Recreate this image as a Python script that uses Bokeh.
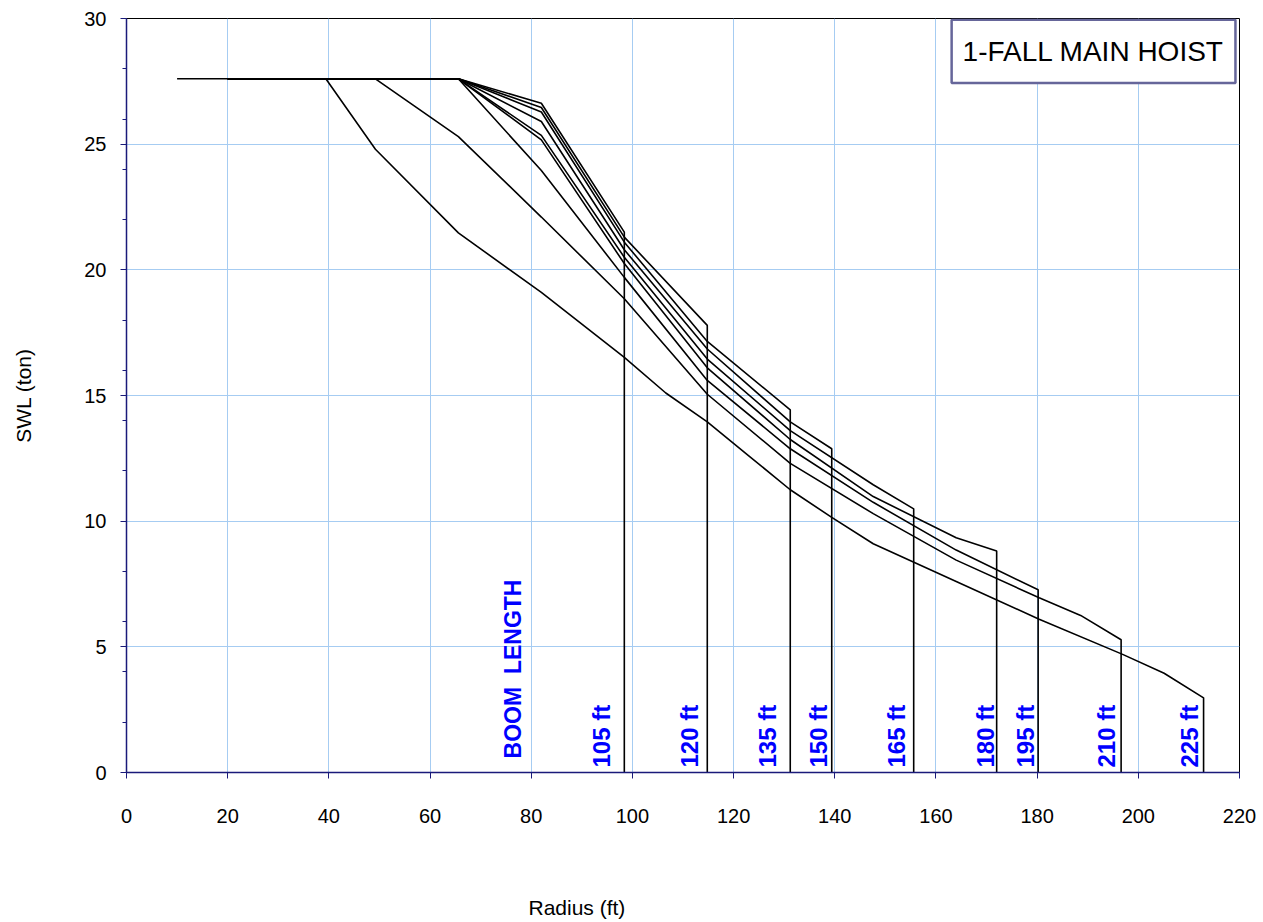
import math
from bokeh.plotting import figure
from bokeh.models import FixedTicker, Label, BoxAnnotation, Range1d, ColumnDataSource, Title
from bokeh.core.properties import value
from bokeh.embed import file_html
from bokeh.resources import INLINE

# ---- data (radius in ft, SWL in ton) ----
r105 = [10, 65.6, 82.0, 98.4, 98.4]
s105 = [27.6, 27.6, 26.63, 21.5, 0]

r120 = [20, 65.6, 82.0, 98.4, 114.8, 114.8]
s120 = [27.6, 27.6, 26.46, 21.3, 17.79, 0]

r135 = [20, 65.6, 82.0, 98.4, 114.8, 131.2, 131.2]
s135 = [27.6, 27.6, 26.28, 21.1, 17.15, 14.43, 0]

r150 = [20, 65.6, 82.0, 98.4, 114.8, 131.2, 139.4, 139.4]
s150 = [27.6, 27.6, 25.9, 20.8, 16.85, 13.95, 12.88, 0]

r165 = [20, 65.6, 82.0, 98.4, 114.8, 131.2, 147.6, 155.6, 155.6]
s165 = [27.6, 27.6, 25.35, 20.5, 16.45, 13.6, 11.45, 10.49, 0]

r180 = [20, 65.6, 82.0, 98.4, 114.8, 131.2, 147.6, 164.0, 172.0, 172.0]
s180 = [27.6, 27.6, 25.17, 20.25, 16.1, 13.25, 10.98, 9.34, 8.81, 0]

r195 = [20, 65.6, 82.0, 98.4, 114.8, 131.2, 147.6, 164.0, 180.2, 180.2]
s195 = [27.6, 27.6, 23.95, 19.7, 15.6, 12.88, 10.75, 8.85, 7.27, 0]

r210 = [20, 49.2, 65.6, 82.0, 98.4, 114.8, 131.2, 147.6, 164.0, 180.4, 188.6, 196.6, 196.6]
s210 = [27.6, 27.6, 25.3, 22.1, 18.85, 15.05, 12.3, 10.3, 8.45, 6.95, 6.25, 5.28, 0]

r225 = [20, 39.4, 49.2, 65.6, 82.0, 98.4, 106.6, 114.8, 123.0, 131.2, 139.4, 147.6,
        164.0, 180.4, 196.9, 205.1, 212.9, 212.9]
s225 = [27.6, 27.6, 24.8, 21.47, 19.1, 16.52, 15.1, 13.95, 12.6, 11.25, 10.15, 9.1,
        7.6, 6.1, 4.7, 3.95, 2.97, 0]

boom_labels = ["105 ft", "120 ft", "135 ft", "150 ft", "165 ft", "180 ft", "195 ft", "210 ft", "225 ft"]
boom_label_x = [93.8, 111.3, 126.8, 136.7, 152.2, 169.8, 177.7, 193.8, 210.2]

x_ticks = [0, 20, 40, 60, 80, 100, 120, 140, 160, 180, 200, 220]
y_ticks = [0, 5, 10, 15, 20, 25, 30]
y_minor = [2, 4, 6, 8, 12, 14, 16, 18, 22, 24, 26, 28]

FONT = "Liberation Sans"
AXIS_COLOR = "#1a1a7a"

p = figure(width=1263, height=922, x_range=Range1d(0, 220), y_range=Range1d(0, 30),
           output_backend="svg", toolbar_location=None,
           min_border_left=126, min_border_right=24, min_border_top=18, min_border_bottom=150)
p.background_fill_color = "white"
p.border_fill_color = "white"
p.outline_line_color = "black"
p.outline_line_width = 1

p.xaxis.ticker = FixedTicker(ticks=x_ticks, minor_ticks=[])
p.yaxis.ticker = FixedTicker(ticks=y_ticks, minor_ticks=y_minor)
for ax in (p.xaxis, p.yaxis):
    ax.axis_line_color = AXIS_COLOR
    ax.axis_line_width = 1.5
    ax.major_tick_line_color = AXIS_COLOR
    ax.minor_tick_line_color = AXIS_COLOR
    ax.major_tick_in = 0
    ax.major_tick_out = 6
    ax.minor_tick_in = 0
    ax.minor_tick_out = 4
    ax.major_label_text_font = FONT
    ax.major_label_text_font_size = "20px"
    ax.major_label_text_color = "black"
    ax.axis_label_text_font = FONT
    ax.axis_label_text_font_size = "21px"
    ax.axis_label_text_font_style = "normal"
    ax.axis_label_text_color = "black"
p.xaxis.major_label_standoff = 30
p.yaxis.major_label_standoff = 14
p.yaxis.axis_label = "SWL (ton)"
p.yaxis.axis_label_standoff = 46
# blank spacer label so the axis title below sits low, as in the original
p.xaxis.axis_label = "\u00a0"
p.xaxis.axis_label_standoff = 42

p.xgrid.grid_line_color = "#a6ccf2"
p.ygrid.grid_line_color = "#a6ccf2"
p.xgrid.grid_line_width = 1
p.ygrid.grid_line_width = 1

for rr, ss in [(r105, s105), (r120, s120), (r135, s135), (r150, s150), (r165, s165),
               (r180, s180), (r195, s195), (r210, s210), (r225, s225)]:
    p.line(rr, ss, line_color="black", line_width=1.6)

src = ColumnDataSource(dict(x=boom_label_x, y=[0.2] * len(boom_label_x), t=boom_labels))
p.text(x="x", y="y", text="t", source=src, angle=math.pi / 2, text_align="left",
       text_baseline="middle", text_color="#0000ff", text_font=value(FONT),
       text_font_size="24px", text_font_style="bold")
p.text(x=[76.4], y=[0.56], text=["BOOM \u00a0LENGTH"], angle=math.pi / 2, text_align="left",
       text_baseline="middle", text_color="#0000ff", text_font=value(FONT),
       text_font_size="23px", text_font_style="bold")

# title box
p.add_layout(BoxAnnotation(left=163.1, right=219.2, bottom=27.43, top=29.95,
                           fill_color="white", fill_alpha=1.0,
                           line_color="#66669a", line_alpha=1.0, line_width=2.5))
p.add_layout(Label(x=191.1, y=28.69, text="1-FALL MAIN HOIST", text_align="center",
                   text_baseline="middle", text_font=FONT, text_font_size="28px",
                   text_color="black"))

# x axis title (offset to the left as in the original)
p.add_layout(Title(text="Radius (ft)", align="left", offset=402, standoff=0,
                   text_font=FONT, text_font_size="21px", text_font_style="normal",
                   text_color="black"), "below")

open("out.html", "w").write(file_html(p, INLINE))
